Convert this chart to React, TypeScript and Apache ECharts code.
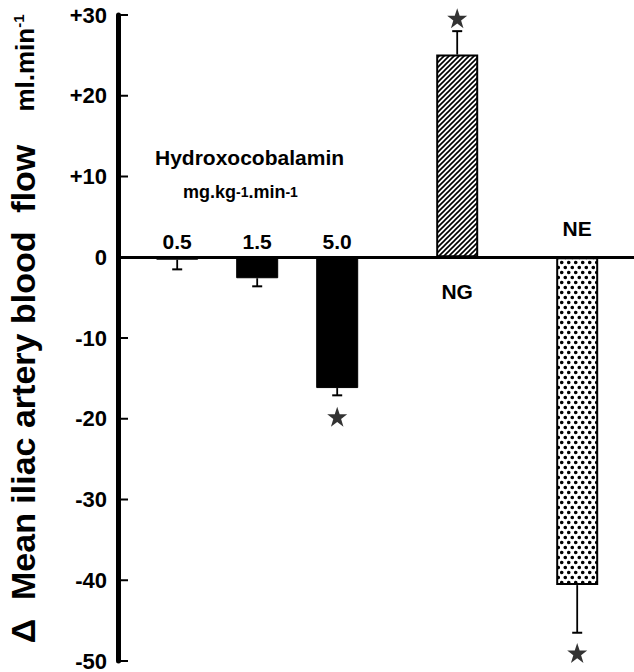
import React, { useEffect, useRef } from "react";
import * as echarts from "echarts";

// ---- data ----
const categories = ["0.5", "1.5", "5.0", "NG", "NE"];
const xPositions = [1, 2, 3, 4.5, 6];
const meanValues = [-0.3, -2.6, -16.2, 25.1, -40.6];
const semValues = [1.2, 1.0, 0.9, 2.9, 5.9];
const starValues: (number | null)[] = [null, null, -19.75, 29.6, -49.0];
const labelValues = [2.0, 2.0, 2.0, -4.3, 3.5];
const yTicks = [-50, -40, -30, -20, -10, 0, 10, 20, 30];
const yMin = -50;
const yMax = 30;
const yInterval = 10;
const xMin = 0.26;
const xMax = 6.71;

const FONT = '"Liberation Sans", Arial, Helvetica, sans-serif';
const STAR =
  "path://M12 0 L14.9 8.3 L23.8 8.3 L16.6 13.5 L19.4 22 L12 16.8 L4.6 22 L7.4 13.5 L0.2 8.3 L9.1 8.3 Z";

function hatchPattern() {
  const s = 5;
  const c = document.createElement("canvas");
  c.width = s;
  c.height = s;
  const g = c.getContext("2d")!;
  g.fillStyle = "#fff";
  g.fillRect(0, 0, s, s);
  g.strokeStyle = "#000";
  g.lineWidth = 1.6;
  g.beginPath();
  g.moveTo(-1, s + 1);
  g.lineTo(s + 1, -1);
  g.moveTo(-1, 1);
  g.lineTo(1, -1);
  g.moveTo(s - 1, s + 1);
  g.lineTo(s + 1, s - 1);
  g.stroke();
  return { image: c, repeat: "repeat", imageWidth: s, imageHeight: s };
}

function dotPattern() {
  const w = 7;
  const h = 10;
  const c = document.createElement("canvas");
  c.width = w;
  c.height = h;
  const g = c.getContext("2d")!;
  g.fillStyle = "#fff";
  g.fillRect(0, 0, w, h);
  g.fillStyle = "#000";
  g.beginPath();
  g.arc(1.75, 2.5, 1.8, 0, Math.PI * 2);
  g.fill();
  g.beginPath();
  g.arc(5.25, 7.5, 1.8, 0, Math.PI * 2);
  g.fill();
  return { image: c, repeat: "repeat", imageWidth: w, imageHeight: h };
}

export default function App() {
  const ref = useRef<HTMLDivElement>(null);

  useEffect(() => {
    if (!ref.current) return;
    const chart = echarts.init(ref.current, null, { renderer: "svg" });

    const barStyles = [
      { color: "#000", borderColor: "#000", borderWidth: 1 },
      { color: "#000", borderColor: "#000", borderWidth: 1 },
      { color: "#000", borderColor: "#000", borderWidth: 1 },
      { color: hatchPattern(), borderColor: "#000", borderWidth: 2 },
      { color: dotPattern(), borderColor: "#000", borderWidth: 2 },
    ];

    const option: any = {
      animation: false,
      backgroundColor: "#fff",
      grid: { left: 118, right: 0, top: 15, bottom: 10, containLabel: false },
      xAxis: {
        type: "value",
        min: xMin,
        max: xMax,
        splitLine: { show: false },
        axisTick: { show: false },
        axisLabel: { show: false },
        axisLine: { show: true, onZero: true, lineStyle: { color: "#000", width: 3 } },
      },
      yAxis: {
        type: "value",
        min: yMin,
        max: yMax,
        interval: yInterval,
        splitLine: { show: false },
        axisLine: { show: true, lineStyle: { color: "#000", width: 5 } },
        axisTick: { show: false },
        axisLabel: {
          margin: 11,
          color: "#000",
          fontFamily: FONT,
          fontWeight: "bold",
          fontSize: 22,
          formatter: (v: number) => (v > 0 ? "+" + v : String(v)),
        },
      },
      graphic: [
        {
          type: "text",
          x: 23,
          y: 394,
          rotation: Math.PI / 2,
          style: {
            text: "Δ  Mean iliac artery blood  flow",
            fontFamily: FONT,
            fontWeight: "bold",
            fontSize: 34,
            fill: "#000",
            align: "center",
            verticalAlign: "middle",
          },
        },
        {
          type: "text",
          x: 25,
          y: 63,
          rotation: Math.PI / 2,
          style: {
            text: "{a|ml.min}{s|-1}",
            align: "center",
            verticalAlign: "middle",
            fill: "#000",
            rich: {
              a: { fontFamily: FONT, fontWeight: "bold", fontSize: 26, fill: "#000", lineHeight: 28 },
              s: { fontFamily: FONT, fontWeight: "bold", fontSize: 15, fill: "#000", verticalAlign: "top", lineHeight: 28 },
            },
          },
        },
        {
          type: "text",
          x: 155,
          y: 157,
          style: {
            text: "Hydroxocobalamin",
            fontFamily: FONT,
            fontWeight: "bold",
            fontSize: 21,
            fill: "#000",
            align: "left",
            verticalAlign: "middle",
          },
        },
        {
          type: "text",
          x: 183,
          y: 192,
          style: {
            text: "{a|mg.kg}{s|-1}{a|.min}{s|-1}",
            align: "left",
            verticalAlign: "middle",
            fill: "#000",
            rich: {
              a: { fontFamily: FONT, fontWeight: "bold", fontSize: 18, fill: "#000", lineHeight: 20 },
              s: { fontFamily: FONT, fontWeight: "bold", fontSize: 14, fill: "#000", lineHeight: 20 },
            },
          },
        },
      ],
      series: [
        {
          type: "bar",
          barWidth: 42,
          z: 2,
          data: meanValues.map((v, i) => ({ value: [xPositions[i], v], itemStyle: barStyles[i] })),
        },
        {
          type: "custom",
          z: 6,
          data: yTicks.map((v) => [xMin, v]),
          renderItem: (params: any, api: any) => {
            const p = api.coord([api.value(0), api.value(1)]);
            return {
              type: "line",
              shape: { x1: p[0], y1: p[1], x2: p[0] + 10, y2: p[1] },
              style: { stroke: "#000", lineWidth: 2 },
            };
          },
        },
        {
          type: "custom",
          z: 3,
          data: meanValues.map((v, i) => [xPositions[i], v, v < 0 ? v - semValues[i] : v + semValues[i]]),
          renderItem: (params: any, api: any) => {
            const x = api.value(0);
            const p0 = api.coord([x, api.value(1)]);
            const p1 = api.coord([x, api.value(2)]);
            return {
              type: "group",
              children: [
                {
                  type: "line",
                  shape: { x1: p0[0], y1: p0[1], x2: p1[0], y2: p1[1] },
                  style: { stroke: "#000", lineWidth: 1.8 },
                },
                {
                  type: "line",
                  shape: { x1: p1[0] - 5, y1: p1[1], x2: p1[0] + 5, y2: p1[1] },
                  style: { stroke: "#000", lineWidth: 2 },
                },
              ],
            };
          },
        },
        {
          type: "scatter",
          z: 4,
          clip: false,
          symbol: STAR,
          symbolSize: 20,
          itemStyle: { color: "#000" },
          data: starValues
            .map((v, i) => (v === null ? null : [xPositions[i], v]))
            .filter((d) => d !== null),
        },
        {
          type: "custom",
          z: 5,
          data: categories.map((c, i) => [xPositions[i], labelValues[i]]),
          renderItem: (params: any, api: any) => {
            const p = api.coord([api.value(0), api.value(1)]);
            return {
              type: "text",
              x: p[0],
              y: p[1],
              style: {
                text: categories[params.dataIndex],
                fontFamily: FONT,
                fontWeight: "bold",
                fontSize: 21,
                fill: "#000",
                align: "center",
                verticalAlign: "middle",
              },
            };
          },
        },
      ],
    };

    chart.setOption(option);
    return () => chart.dispose();
  }, []);

  return (
    <div
      ref={ref}
      style={{ position: "absolute", left: 0, top: 0, width: 634, height: 672, background: "#fff" }}
    />
  );
}
